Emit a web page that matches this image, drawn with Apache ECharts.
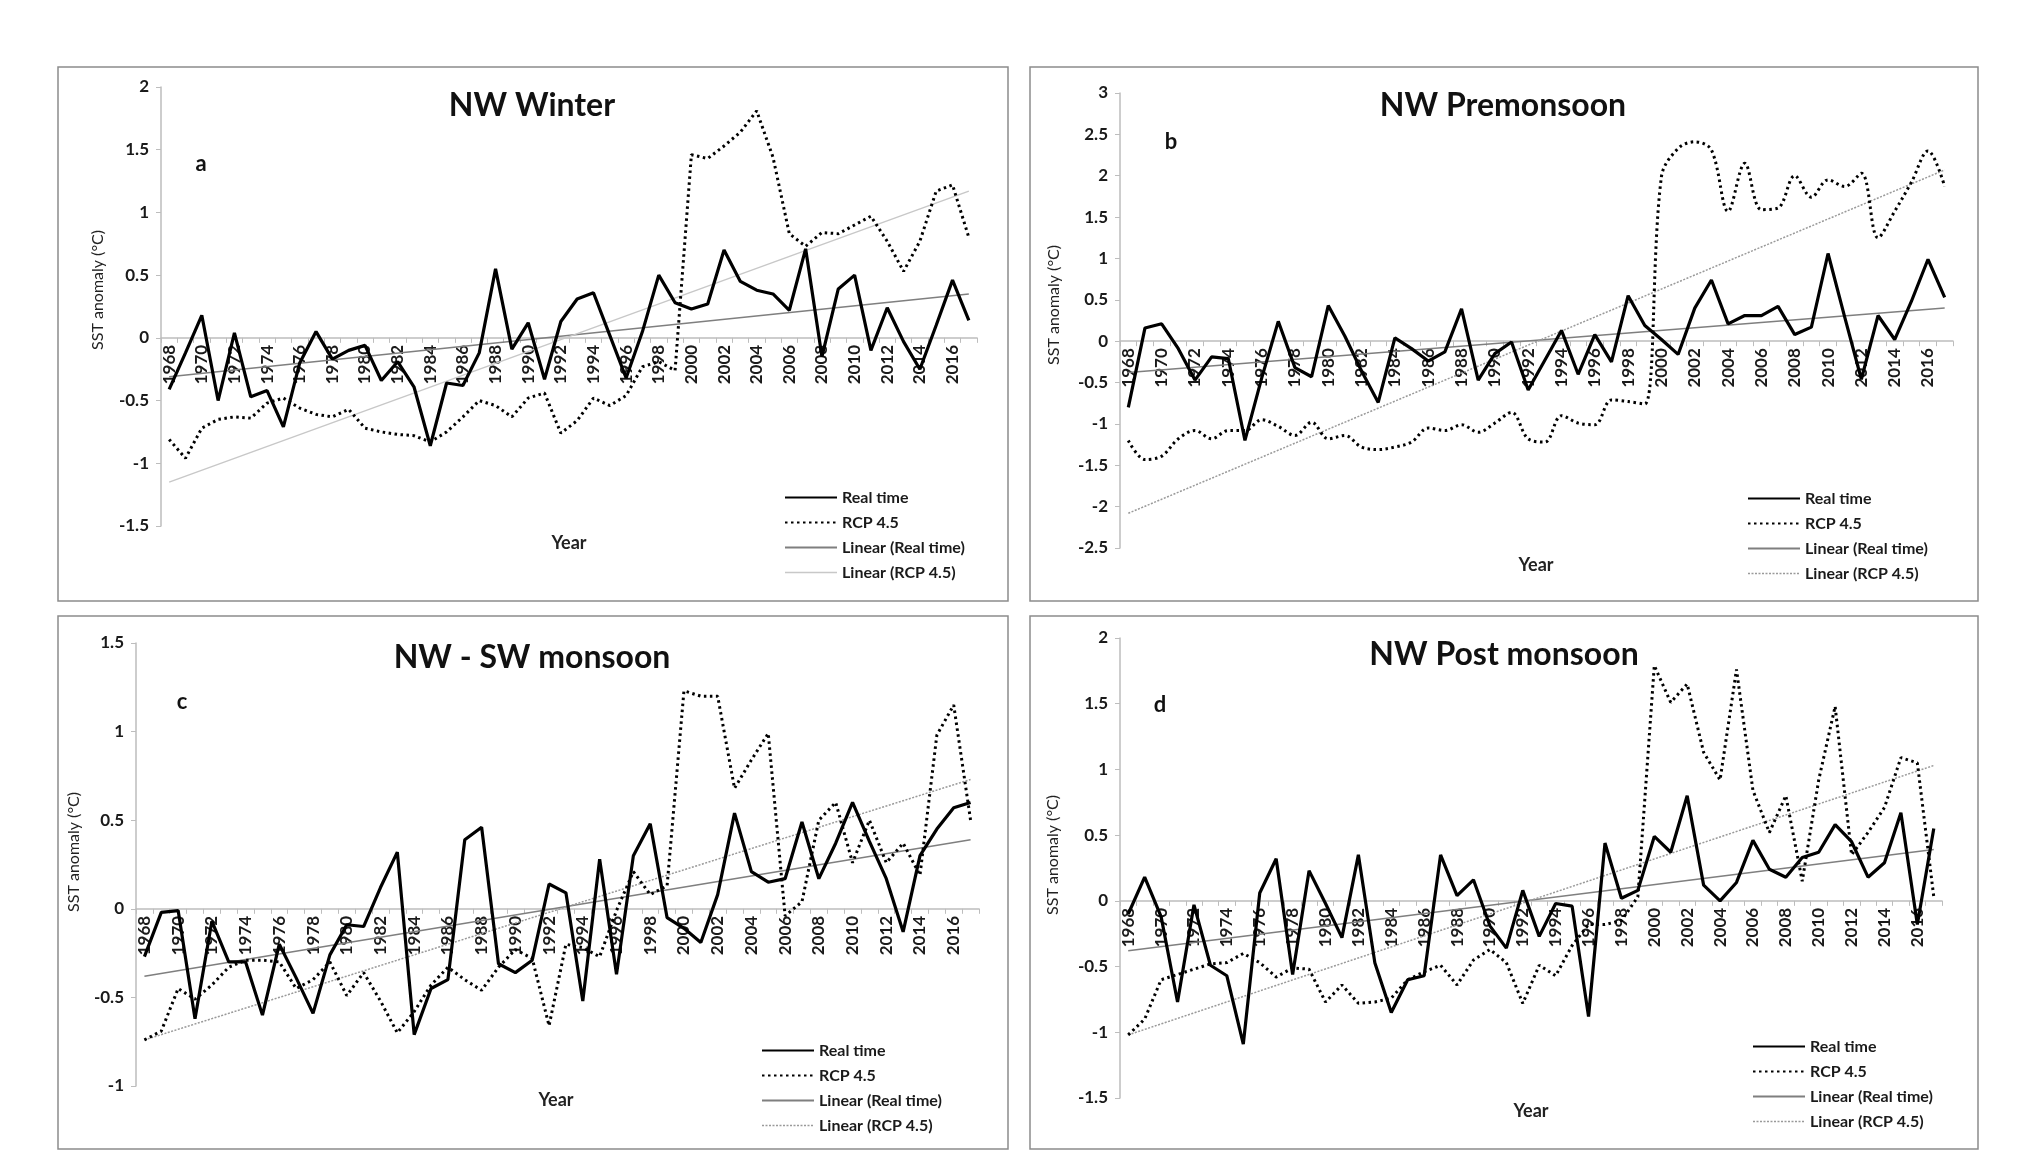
<!DOCTYPE html>
<html><head><meta charset="utf-8">
<script src="https://cdn.jsdelivr.net/npm/echarts@6/dist/echarts.min.js"></script>
<style>html,body{margin:0;padding:0;background:#fff}#c{width:2026px;height:1151px}</style>
</head><body><div id="c"></div>
<script>
const years = ['1968','1969','1970','1971','1972','1973','1974','1975','1976','1977',
'1978','1979','1980','1981','1982','1983','1984','1985','1986','1987',
'1988','1989','1990','1991','1992','1993','1994','1995','1996','1997',
'1998','1999','2000','2001','2002','2003','2004','2005','2006','2007',
'2008','2009','2010','2011','2012','2013','2014','2015','2016','2017'];

const realA = [-0.41,-0.12,0.18,-0.50,0.04,-0.47,-0.42,-0.71,-0.20,0.05,
-0.17,-0.10,-0.06,-0.34,-0.19,-0.39,-0.86,-0.36,-0.38,-0.12,
0.55,-0.09,0.12,-0.33,0.13,0.31,0.36,0.02,-0.32,0.05,
0.50,0.28,0.23,0.27,0.70,0.45,0.38,0.35,0.22,0.71,
-0.15,0.39,0.50,-0.10,0.24,-0.03,-0.25,0.10,0.46,0.14];
const rcpA = [-0.81,-0.96,-0.72,-0.65,-0.63,-0.64,-0.52,-0.48,-0.56,-0.61,
-0.63,-0.57,-0.72,-0.75,-0.77,-0.78,-0.83,-0.75,-0.63,-0.50,
-0.54,-0.63,-0.48,-0.44,-0.76,-0.66,-0.48,-0.54,-0.46,-0.23,
-0.19,-0.26,1.46,1.43,1.53,1.64,1.81,1.44,0.83,0.73,
0.84,0.83,0.90,0.97,0.77,0.53,0.77,1.17,1.22,0.80];
const trendRealA = [-0.31, 0.35];
const trendRcpA = [-1.15, 1.17];

const realB = [-0.80,0.16,0.21,-0.09,-0.47,-0.19,-0.21,-1.20,-0.45,0.24,
-0.32,-0.43,0.43,0.06,-0.36,-0.74,0.04,-0.09,-0.24,-0.13,
0.39,-0.47,-0.15,-0.01,-0.59,-0.23,0.13,-0.40,0.08,-0.25,
0.55,0.19,0.02,-0.16,0.40,0.74,0.21,0.31,0.31,0.42,
0.08,0.17,1.06,0.29,-0.46,0.31,0.02,0.48,0.99,0.53];
const rcpB = [-1.20,-1.43,-1.39,-1.18,-1.08,-1.18,-1.08,-1.08,-0.95,-1.03,
-1.14,-0.98,-1.18,-1.14,-1.28,-1.31,-1.28,-1.22,-1.05,-1.08,
-1.01,-1.10,-0.99,-0.86,-1.18,-1.22,-0.90,-0.99,-1.01,-0.71,
-0.73,-0.76,1.99,2.33,2.41,2.31,1.57,2.15,1.59,1.61,
2.00,1.74,1.95,1.87,2.03,1.25,1.57,1.92,2.30,1.87];
const trendRealB = [-0.38, 0.40];
const trendRcpB = [-2.08, 2.07];

const realC = [-0.27,-0.02,-0.01,-0.62,-0.07,-0.30,-0.30,-0.60,-0.20,-0.39,
-0.59,-0.26,-0.09,-0.10,0.12,0.32,-0.71,-0.45,-0.40,0.39,
0.46,-0.31,-0.36,-0.29,0.14,0.09,-0.52,0.28,-0.37,0.30,
0.48,-0.05,-0.11,-0.19,0.08,0.54,0.21,0.15,0.17,0.49,
0.17,0.37,0.60,0.38,0.17,-0.13,0.30,0.45,0.57,0.60];
const rcpC = [-0.74,-0.69,-0.45,-0.51,-0.43,-0.33,-0.29,-0.29,-0.30,-0.45,
-0.40,-0.30,-0.49,-0.36,-0.52,-0.70,-0.58,-0.43,-0.33,-0.40,
-0.46,-0.33,-0.23,-0.28,-0.66,-0.20,-0.22,-0.27,-0.01,0.21,
0.08,0.13,1.23,1.20,1.20,0.68,0.84,0.99,-0.04,0.04,
0.50,0.60,0.26,0.50,0.26,0.37,0.19,0.98,1.15,0.50];
const trendRealC = [-0.38, 0.39];
const trendRcpC = [-0.74, 0.73];

const realD = [-0.10,0.18,-0.12,-0.77,-0.03,-0.49,-0.57,-1.09,0.06,0.32,
-0.56,0.23,-0.02,-0.28,0.35,-0.47,-0.85,-0.60,-0.57,0.35,
0.04,0.16,-0.19,-0.36,0.08,-0.27,-0.02,-0.04,-0.88,0.44,
0.02,0.08,0.49,0.37,0.80,0.12,0.00,0.14,0.46,0.24,
0.18,0.33,0.37,0.58,0.45,0.18,0.29,0.67,-0.18,0.55];
const rcpD = [-1.02,-0.90,-0.60,-0.56,-0.52,-0.48,-0.47,-0.40,-0.47,-0.58,
-0.51,-0.52,-0.77,-0.64,-0.78,-0.77,-0.74,-0.60,-0.54,-0.49,
-0.64,-0.45,-0.37,-0.47,-0.78,-0.49,-0.57,-0.34,-0.18,-0.18,
-0.15,0.03,1.79,1.51,1.65,1.13,0.92,1.76,0.84,0.52,
0.80,0.15,0.92,1.48,0.35,0.52,0.71,1.09,1.05,0.03];
const trendRealD = [-0.38, 0.39];
const trendRcpD = [-1.02, 1.03];

const titles = ['NW Winter','NW Premonsoon','NW - SW monsoon','NW Post monsoon'];
const letters = ['a','b','c','d'];
const names = ['Real time','RCP 4.5','Linear (Real time)','Linear (RCP 4.5)'];

const FONT = 'Lato, "Open Sans", sans-serif';
const panels = [
  {real:realA, rcp:rcpA, tr:trendRealA, tc:trendRcpA, min:-1.5, max:2,
   box:[58,67,950,534], grid:{left:161,top:87,width:816,height:439},
   titlePos:[532,106], letterPos:[201,164], yearPos:[569,543], yNamePos:[98,290], legendPos:[779,484],
   rcpTrend:{color:'#c8c8c8', type:'solid', width:1.5}, smoothRcp:false},
  {real:realB, rcp:rcpB, tr:trendRealB, tc:trendRcpB, min:-2.5, max:3,
   box:[1030,67,948,534], grid:{left:1120,top:93,width:833,height:455},
   titlePos:[1503,106], letterPos:[1171,142], yearPos:[1536,565], yNamePos:[1054,305], legendPos:[1742,485],
   rcpTrend:{color:'#9a9a9a', type:[2,1.5], width:1.5}, smoothRcp:true},
  {real:realC, rcp:rcpC, tr:trendRealC, tc:trendRcpC, min:-1, max:1.5,
   box:[58,616,950,533], grid:{left:136,top:643,width:843,height:443},
   titlePos:[532,658], letterPos:[182,702], yearPos:[556,1100], yNamePos:[74,852], legendPos:[756,1037],
   rcpTrend:{color:'#9a9a9a', type:[2,1.5], width:1.5}, smoothRcp:false},
  {real:realD, rcp:rcpD, tr:trendRealD, tc:trendRcpD, min:-1.5, max:2,
   box:[1030,616,948,533], grid:{left:1120,top:638,width:822,height:460},
   titlePos:[1504,655], letterPos:[1160,705], yearPos:[1531,1111], yNamePos:[1053,855], legendPos:[1747,1033],
   rcpTrend:{color:'#9a9a9a', type:[2,1.5], width:1.5}, smoothRcp:false}
];

function endpoints(pair){
  return years.map((y,i)=> i===0 ? pair[0] : (i===years.length-1 ? pair[1] : null));
}

const grid=[], xAxis=[], yAxis=[], series=[], legend=[], graphic=[];
const realStyle = {color:'#000', width:3.2};
const rcpStyle = {color:'#000', width:3, type:[2.5,3.5], cap:'butt'};
const linRealStyle = {color:'#7f7f7f', width:1.5};

panels.forEach((p,i)=>{
  grid.push(Object.assign({containLabel:false}, p.grid));
  // place the category axis on the zero line of the value axis
  const zeroOffset = -p.grid.height * (0 - p.min) / (p.max - p.min);
  xAxis.push({type:'category', gridIndex:i, data:years, boundaryGap:true, position:'bottom', offset:zeroOffset,
    axisLine:{onZero:false, lineStyle:{color:'#bdbdbd', width:1.5}},
    axisTick:{show:true, interval:0, length:5, lineStyle:{color:'#bdbdbd'}},
    axisLabel:{rotate:90, interval:1, margin:7, fontSize:17, fontWeight:'bold', color:'#1a1a1a', fontFamily:FONT},
    splitLine:{show:false}});
  yAxis.push({type:'value', gridIndex:i, min:p.min, max:p.max, interval:0.5,
    axisLine:{show:true, lineStyle:{color:'#bdbdbd', width:1.5}},
    axisTick:{show:true, length:5, lineStyle:{color:'#bdbdbd'}},
    axisLabel:{fontSize:17, fontWeight:'bold', color:'#1a1a1a', margin:12, fontFamily:FONT},
    splitLine:{show:false}});
  series.push({name:names[2], type:'line', xAxisIndex:i, yAxisIndex:i, data:endpoints(p.tr), connectNulls:true,
    symbol:'none', color:'#7f7f7f', lineStyle:linRealStyle, z:2, silent:true});
  series.push({name:names[3], type:'line', xAxisIndex:i, yAxisIndex:i, data:endpoints(p.tc), connectNulls:true,
    symbol:'none', color:p.rcpTrend.color, lineStyle:p.rcpTrend, z:2, silent:true});
  series.push({name:names[1], type:'line', xAxisIndex:i, yAxisIndex:i, data:p.rcp, smooth:p.smoothRcp?0.35:false,
    symbol:'none', color:'#000', lineStyle:rcpStyle, z:3, silent:true});
  series.push({name:names[0], type:'line', xAxisIndex:i, yAxisIndex:i, data:p.real,
    symbol:'none', color:'#000', lineStyle:realStyle, z:4, silent:true});
  legend.push({orient:'vertical', left:p.legendPos[0], top:p.legendPos[1], itemWidth:52, itemHeight:12, itemGap:8,
    selectedMode:false, itemStyle:{opacity:0},
    textStyle:{fontSize:16, fontWeight:'bold', color:'#1a1a1a', fontFamily:FONT, lineHeight:17},
    data:[
      {name:names[0]},
      {name:names[1]},
      {name:names[2]},
      {name:names[3], lineStyle:p.rcpTrend}
    ]});
  graphic.push({type:'rect', silent:true, shape:{x:p.box[0], y:p.box[1], width:p.box[2], height:p.box[3]},
    style:{fill:'none', stroke:'#8c8c8c', lineWidth:1.5}});
  graphic.push({type:'text', silent:true, x:p.titlePos[0], y:p.titlePos[1],
    style:{text:titles[i], align:'center', verticalAlign:'middle', font:'bold 32px '+FONT, fill:'#111'}});
  graphic.push({type:'text', silent:true, x:p.letterPos[0], y:p.letterPos[1],
    style:{text:letters[i], align:'center', verticalAlign:'middle', font:'bold 22px '+FONT, fill:'#111'}});
  graphic.push({type:'text', silent:true, x:p.yearPos[0], y:p.yearPos[1],
    style:{text:'Year', align:'center', verticalAlign:'middle', font:'bold 18px '+FONT, fill:'#222'}});
  graphic.push({type:'text', silent:true, x:p.yNamePos[0], y:p.yNamePos[1], rotation:Math.PI/2,
    style:{text:'SST anomaly (°C)', align:'center', verticalAlign:'middle', font:'16px '+FONT, fill:'#222'}});
});

const chart = echarts.init(document.getElementById('c'), null, {renderer:'canvas'});
chart.setOption({backgroundColor:'#fff', animation:false, grid, xAxis, yAxis, series, legend, graphic});
</script></body></html>
